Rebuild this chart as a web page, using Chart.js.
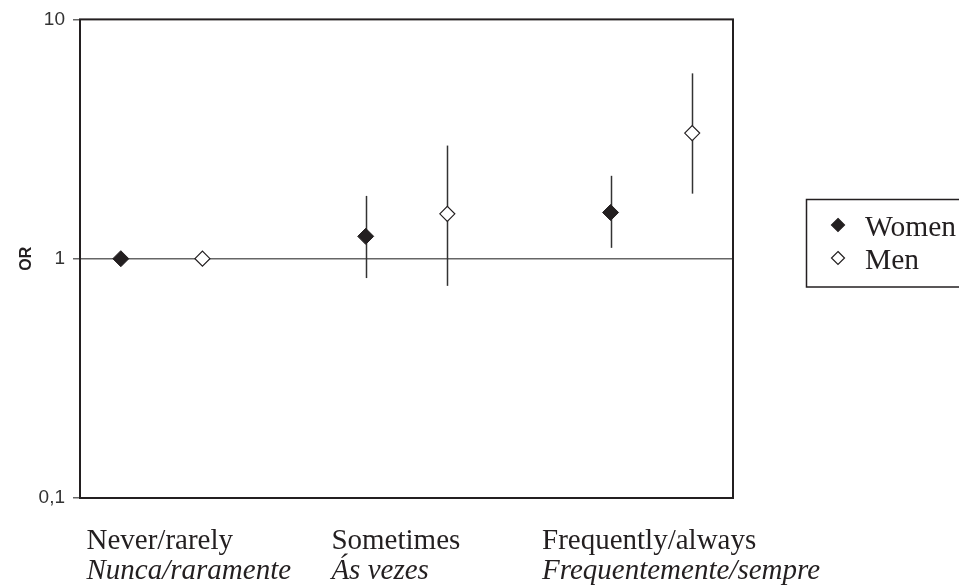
<!DOCTYPE html>
<html>
<head>
<meta charset="utf-8">
<script src="https://cdn.jsdelivr.net/npm/chart.js@4.4.0/dist/chart.umd.min.js"></script>
<style>
  html, body { margin: 0; padding: 0; background: #fff; }
  #wrap { width: 959px; height: 588px; position: relative; }
</style>
</head>
<body>
<div id="wrap"><canvas id="chart"></canvas></div>
<script>
// categories (english / portuguese)
const categories = ["Never/rarely", "Sometimes", "Frequently/always"];
const categoriesPt = ["Nunca/raramente", "Ás vezes", "Frequentemente/sempre"];

// odds ratios with 95% CI
const women = [1, 1.24, 1.56];
const womenLow = [null, 0.83, 1.11];
const womenHigh = [null, 1.83, 2.22];

const men = [1, 1.54, 3.35];
const menLow = [null, 0.77, 1.87];
const menHigh = [null, 2.97, 5.95];

const yTicks = [0.1, 1, 10];
const yTickLabels = ["0,1", "1", "10"];

const ink = "#231f20";
const serif = "'Liberation Serif', 'Times New Roman', serif";

// each category gets a slot of 3 units on the x scale, women then men
const slot = 3;
const toPoints = (vals, lows, highs, off) =>
  vals.map((v, i) => ({ x: i * slot + off, y: v, lo: lows[i], hi: highs[i] }));

const frameAndBars = {
  id: "frameAndBars",
  beforeDatasetsDraw(chart) {
    const { ctx } = chart;
    const xs = chart.scales.x, ys = chart.scales.y;
    ctx.save();
    ctx.strokeStyle = "#333";
    ctx.lineWidth = 1.5;
    chart.data.datasets.forEach(ds => {
      ds.data.forEach(p => {
        if (p.lo == null || p.hi == null) return;
        const px = Math.round(xs.getPixelForValue(p.x)) + 0.5;
        ctx.beginPath();
        ctx.moveTo(px, ys.getPixelForValue(p.lo));
        ctx.lineTo(px, ys.getPixelForValue(p.hi));
        ctx.stroke();
      });
    });
    ctx.restore();
  },
  afterDraw(chart) {
    const { ctx, chartArea: a } = chart;
    const xs = chart.scales.x;
    ctx.save();
    // plot frame
    ctx.strokeStyle = ink;
    ctx.lineWidth = 2;
    ctx.strokeRect(a.left, a.top, a.right - a.left, a.bottom - a.top);

    // category labels, left aligned, two lines
    const labelX = [0.08, 3.08, 5.66];
    ctx.fillStyle = ink;
    ctx.textAlign = "left";
    ctx.textBaseline = "alphabetic";
    categories.forEach((c, i) => {
      const px = xs.getPixelForValue(labelX[i]);
      ctx.font = "29px " + serif;
      ctx.fillText(c, px, 549);
      ctx.font = "italic 29px " + serif;
      ctx.fillText(categoriesPt[i], px, 579);
    });

    // legend
    ctx.lineWidth = 1.5;
    ctx.strokeStyle = ink;
    ctx.strokeRect(806.5, 199.5, 160, 87.5);
    ctx.font = "29.5px " + serif;
    chart.data.datasets.forEach((ds, i) => {
      const cy = 225 + i * 33;
      const r = 6.5;
      ctx.beginPath();
      ctx.moveTo(838, cy - r);
      ctx.lineTo(838 + r, cy);
      ctx.lineTo(838, cy + r);
      ctx.lineTo(838 - r, cy);
      ctx.closePath();
      ctx.fillStyle = ds.backgroundColor;
      ctx.fill();
      ctx.lineWidth = 1.2;
      ctx.strokeStyle = ink;
      ctx.stroke();
      ctx.fillStyle = ink;
      ctx.fillText(ds.label, 865, cy + 11);
    });
    ctx.restore();
  }
};

new Chart(document.getElementById("chart"), {
  type: "scatter",
  data: {
    datasets: [
      {
        label: "Women",
        data: toPoints(women, womenLow, womenHigh, 0.5),
        pointStyle: "rectRot",
        pointRadius: 8,
        backgroundColor: ink,
        borderColor: ink,
        borderWidth: 1
      },
      {
        label: "Men",
        data: toPoints(men, menLow, menHigh, 1.5),
        pointStyle: "rectRot",
        pointRadius: 7.5,
        backgroundColor: "#ffffff",
        borderColor: ink,
        borderWidth: 1.2
      }
    ]
  },
  options: {
    responsive: true,
    maintainAspectRatio: false,
    animation: false,
    layout: { padding: { top: 16, right: 226, left: 0, bottom: 0 } },
    plugins: { legend: { display: false }, tooltip: { enabled: false } },
    scales: {
      x: {
        type: "linear",
        min: 0,
        max: 8,
        ticks: { display: false },
        grid: { display: false },
        border: { display: false },
        afterFit(scale) { scale.height = 90; }
      },
      y: {
        type: "logarithmic",
        min: 0.1,
        max: 10,
        afterBuildTicks(scale) {
          scale.ticks = yTicks.map(v => ({ value: v }));
        },
        afterFit(scale) { scale.width = 80; },
        ticks: {
          padding: 8,
          color: "#333",
          font: { family: "'Liberation Sans', Arial, sans-serif", size: 19 },
          callback: (v, i) => yTickLabels[i]
        },
        grid: {
          color: c => (c.tick && c.tick.value === 1 ? "#666" : "rgba(0,0,0,0)"),
          tickColor: "#666",
          tickLength: 7,
          lineWidth: 1.5
        },
        border: { display: false },
        title: {
          display: true,
          text: "OR",
          color: ink,
          padding: { top: 17, bottom: 0 },
          font: { family: "'Liberation Sans', Arial, sans-serif", size: 16, weight: "bold" }
        }
      }
    }
  },
  plugins: [frameAndBars]
});
</script>
</body>
</html>
